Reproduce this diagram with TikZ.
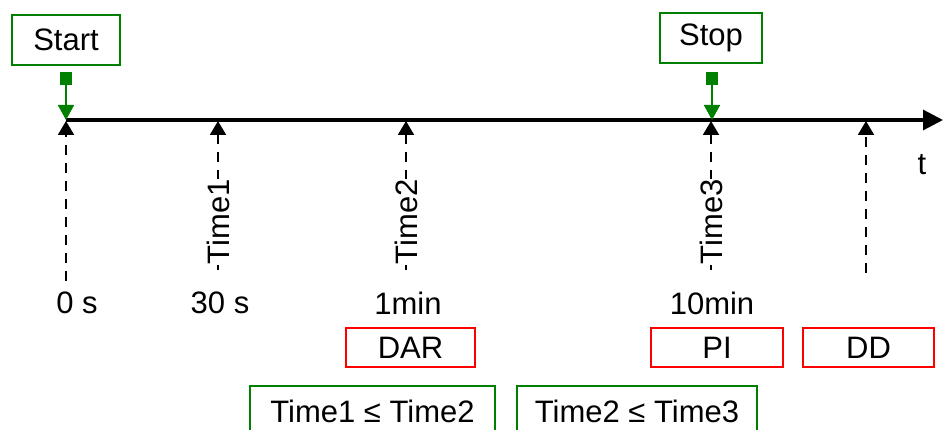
\documentclass[tikz,border=0pt]{standalone}
\usepackage{fontspec}
\setmainfont{Liberation Sans}
\usetikzlibrary{arrows.meta}
\definecolor{grn}{RGB}{0,128,0}
\definecolor{rd}{RGB}{255,0,0}
\begin{document}
\begin{tikzpicture}[x=1pt,y=-1pt,
  every node/.style={font=\fontsize{31}{36}\selectfont, inner sep=0pt},
  gbox/.style={draw=grn, line width=2.8pt, minimum height=50pt},
  rbox/.style={draw=rd, line width=2.8pt, minimum height=39pt},
  gsq/.style={fill=grn, minimum width=12pt, minimum height=13pt},
  garrow/.style={draw=grn, line width=1.8pt, -{Triangle[length=15pt,width=16pt]}, shorten >=-1pt},
  tickline/.style={line width=1.9pt, dash pattern=on 10pt off 8pt, -{Triangle[length=14pt,width=16pt]}},
  tlabel/.style={rotate=90, fill=white, inner xsep=1pt, inner ysep=0pt},
  vlabel/.style={anchor=center}
]
\useasboundingbox (0,0) rectangle (943,430);

% axis
\coordinate (a0) at (66,120);
\coordinate (aend) at (943,120);
\draw[line width=3.2pt, -{Triangle[length=20pt,width=20pt]}] (a0) -- (aend);
\node (t) at (922,165) {t};

% tick points on axis
\coordinate (k0) at (66,121);
\coordinate (k1) at (218,121);
\coordinate (k2) at (406,121);
\coordinate (k3) at (711,121);
\coordinate (k4) at (866,121);
% lower ends
\coordinate (e0) at (66,281);
\coordinate (e1) at (218,270);
\coordinate (e2) at (406,270);
\coordinate (e3) at (711,270);
\coordinate (e4) at (866,273);

\draw[tickline] (e0) -- (k0);
\draw[tickline] (e1) -- (k1);
\draw[tickline] (e2) -- (k2);
\draw[tickline] (e3) -- (k3);
\draw[tickline] (e4) -- (k4);

\node[tlabel] (T1) at (218,222) {Time1};
\node[tlabel] (T2) at (406,222) {Time2};
\node[tlabel] (T3) at (711,222) {Time3};

\node[vlabel] (v0) at (77,303) {0 s};
\node[vlabel] (v1) at (220,303) {30 s};
\node[vlabel] (v2) at (408,303) {1min};
\node[vlabel] (v3) at (712,303) {10min};

% start / stop
\node[gbox, minimum width=108pt] (start) at (66,40) {Start};
\node[gbox, minimum width=102pt] (stop) at (711,38) {Stop};
\node[gsq] (sq1) at (66,78.5) {};
\node[gsq] (sq2) at (712,78.5) {};
\coordinate (g0) at (66,119);
\coordinate (g3) at (712,119);
\draw[garrow] (sq1.south) -- (g0);
\draw[garrow] (sq2.south) -- (g3);

% red boxes
\node[rbox, minimum width=129pt] (dar) at (410.5,347.5) {DAR};
\node[rbox, minimum width=132pt] (pi) at (717,347.5) {PI};
\node[rbox, minimum width=131pt] (dd) at (868.5,347.5) {DD};

% green condition boxes
\node[gbox, minimum width=245pt, minimum height=64pt] (c1) at (372.5,418) {};
\node (c1t) at (372.5,411) {Time1 ≤ Time2};
\node[gbox, minimum width=240pt, minimum height=64pt] (c2) at (637,418) {};
\node (c2t) at (637,411) {Time2 ≤ Time3};
\end{tikzpicture}
\end{document}
